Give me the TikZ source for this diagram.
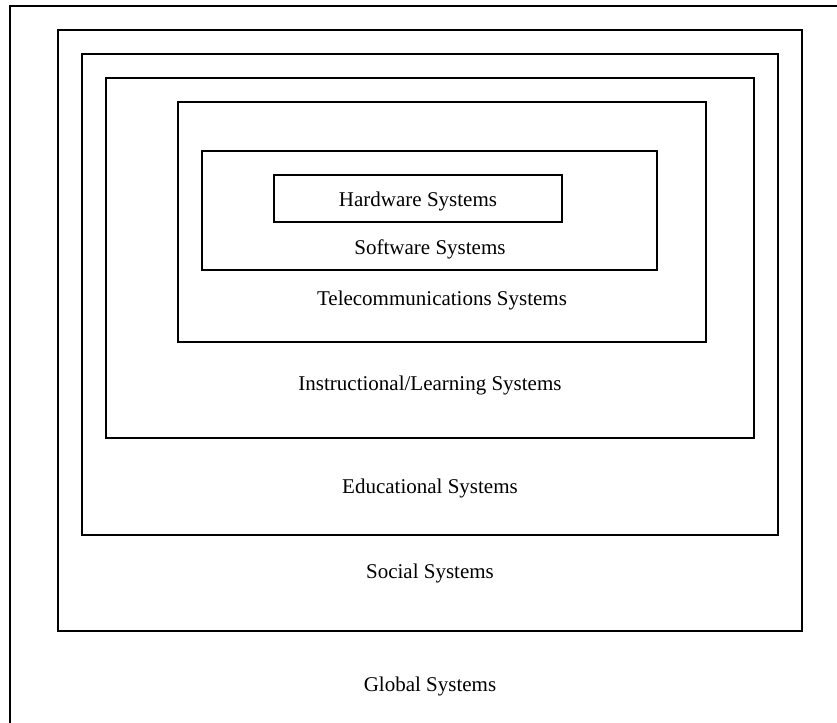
\documentclass[tikz,border=0pt]{standalone}
\usepackage{fontspec}
\setmainfont{Liberation Serif}

\tikzset{
  sysbox/.style={draw=black, line width=0.7pt},
  syslabel/.style={align=center, inner sep=0pt, font=\fontsize{10.5}{12.6}\selectfont}
}

\begin{document}
\begin{tikzpicture}[x=0.5pt, y=-0.5pt]
\clip (0,0) rectangle (837,723);

\draw [sysbox] (10,6) rectangle (845,735);% global, cut at page edge
\draw [sysbox] (58,30) rectangle (802,631);
\draw [sysbox] (82,54) rectangle (778,535);
\draw [sysbox] (106,78) rectangle (754,438);
\draw [sysbox] (178,102) rectangle (706,342);
\draw [sysbox] (202,151) rectangle (657,270);
\draw [sysbox] (274,175) rectangle (562,222);

\node[syslabel] (hw) at (418,201) {Hardware Systems};
\node[syslabel] (sw) at (430,249) {Software Systems};
\node[syslabel] (tel) at (442,300) {Telecommunications Systems};
\node[syslabel] (inst) at (430,385) {Instructional/Learning Systems};
\node[syslabel] (edu) at (430,488) {Educational Systems};
\node[syslabel] (soc) at (430,573) {Social Systems};
\node[syslabel] (glob) at (430,686) {Global Systems};
\end{tikzpicture}
\end{document}
